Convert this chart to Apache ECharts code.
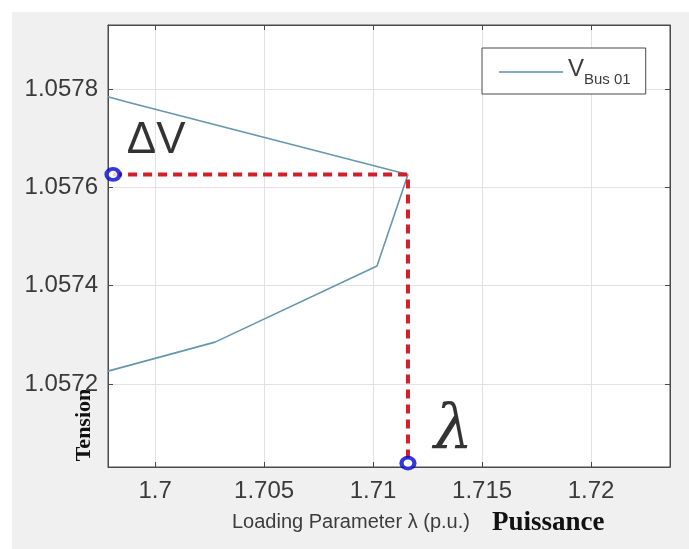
<!DOCTYPE html>
<html>
<head>
<meta charset="utf-8">
<style>
  html, body { margin: 0; padding: 0; background: #ffffff; }
  #chart { width: 689px; height: 549px; }
</style>
<script src="https://cdn.jsdelivr.net/npm/echarts@6/dist/echarts.min.js"></script>
</head>
<body>
<div id="chart"></div>
<script>
// P-V nose curve of bus 01 (voltage vs. loading parameter)
const lambdaValues  = [1.69784, 1.69867, 1.71160, 1.71018, 1.70275, 1.69784];
const voltageValues = [1.057784, 1.057774, 1.057626, 1.057440, 1.057285, 1.057226];

// Critical (maximum loading) point and the projections onto the axes
const criticalLambda = 1.71160;
const criticalVoltage = 1.057626;
const voltageMarkerLambda = 1.698073;
const lambdaMarkerVoltage = 1.057039;

// Axis ranges and tick values
const xRange = [1.69784, 1.72362];
const yRange = [1.057031, 1.057930];
const xTicks = [1.7, 1.705, 1.71, 1.715, 1.72];
const yTicks = [1.0572, 1.0574, 1.0576, 1.0578];

const curve = lambdaValues.map((l, i) => [l, voltageValues[i]]);
const projection = [
  [voltageMarkerLambda, criticalVoltage],
  [criticalLambda, criticalVoltage],
  [criticalLambda, lambdaMarkerVoltage]
];

const sans = "'Liberation Sans', Arial, Helvetica, sans-serif";
const serif = "'Liberation Serif', 'Times New Roman', serif";
const axisColor = '#4a4a4a';
const gridColor = '#e2e2e2';
const curveColor = '#6596ae';

const chart = echarts.init(document.getElementById('chart'));

const tickStyle = (values) => ({
  show: true, inside: true, length: 5, customValues: values,
  lineStyle: { color: axisColor, width: 1 }
});

chart.setOption({
  backgroundColor: '#ffffff',
  animation: false,
  grid: {
    left: 108, top: 25, width: 562, height: 442,
    containLabel: false, outerBoundsMode: 'none',
    show: true, backgroundColor: '#ffffff', borderColor: axisColor, borderWidth: 1
  },
  graphic: [
    { type: 'rect', z: -10, silent: true,
      shape: { x: 12, y: 12, width: 689, height: 549 },
      style: { fill: '#f0f0f0' } },
    { type: 'text', x: 84, y: 425, rotation: Math.PI / 2,
      style: { text: 'Tension', font: 'bold 22px ' + serif, fill: '#111111',
               align: 'center', verticalAlign: 'middle' } },
    { type: 'text', x: 232, y: 522,
      style: { text: 'Loading Parameter \u03bb (p.u.)', font: '20px ' + sans, fill: '#3c3c3c',
               align: 'left', verticalAlign: 'middle' } },
    { type: 'text', x: 492, y: 523,
      style: { text: 'Puissance', font: 'bold 27px ' + serif, fill: '#111111',
               align: 'left', verticalAlign: 'middle' } }
  ],
  legend: {
    left: 482, top: 48,
    padding: [9, 15, 7, 17],
    borderColor: axisColor, borderWidth: 1, borderRadius: 0,
    backgroundColor: '#ffffff',
    icon: 'rect',
    itemWidth: 64, itemHeight: 2,
    itemStyle: { color: '#86abc0' },
    data: ['VBus01'],
    formatter: () => '{v|V}{s|Bus 01}',
    textStyle: {
      rich: {
        v: { fontSize: 24, fontFamily: sans, color: '#3c3c3c', verticalAlign: 'top', lineHeight: 30 },
        s: { fontSize: 15, fontFamily: sans, color: '#3c3c3c', verticalAlign: 'bottom', lineHeight: 30, padding: [12, 0, 0, 0] }
      }
    }
  },
  xAxis: [
    {
      type: 'value', position: 'bottom', min: xRange[0], max: xRange[1],
      axisLine: { show: true, onZero: false, lineStyle: { color: axisColor, width: 1 } },
      axisTick: tickStyle(xTicks),
      axisLabel: {
        customValues: xTicks, margin: 12, color: '#3a3a3a', fontSize: 24, fontFamily: sans,
        formatter: v => String(parseFloat(v.toFixed(4)))
      },
      splitLine: { show: true, lineStyle: { color: gridColor, width: 1 } }
    },
    {
      type: 'value', position: 'top', min: xRange[0], max: xRange[1],
      axisLine: { show: true, onZero: false, lineStyle: { color: axisColor, width: 1 } },
      axisTick: tickStyle(xTicks),
      axisLabel: { show: false },
      splitLine: { show: false }
    }
  ],
  yAxis: [
    {
      type: 'value', position: 'left', min: yRange[0], max: yRange[1],
      axisLine: { show: true, onZero: false, lineStyle: { color: axisColor, width: 1 } },
      axisTick: tickStyle(yTicks),
      axisLabel: {
        customValues: yTicks, margin: 10, color: '#3a3a3a', fontSize: 24, fontFamily: sans,
        formatter: v => v.toFixed(4)
      },
      splitLine: { show: true, lineStyle: { color: gridColor, width: 1 } }
    },
    {
      type: 'value', position: 'right', min: yRange[0], max: yRange[1],
      axisLine: { show: true, onZero: false, lineStyle: { color: axisColor, width: 1 } },
      axisTick: tickStyle(yTicks),
      axisLabel: { show: false },
      splitLine: { show: false }
    }
  ],
  series: [
    {
      name: 'VBus01', type: 'line', data: curve, xAxisIndex: 0, yAxisIndex: 0,
      symbol: 'none', smooth: false, z: 2,
      lineStyle: { color: curveColor, width: 1.6 },
      itemStyle: { color: '#86abc0' }
    },
    {
      name: 'projection', type: 'line', data: projection,
      symbol: 'none', z: 3,
      lineStyle: { color: '#d1202b', width: 4, type: [9, 6] }
    },
    {
      name: 'critical', type: 'scatter', z: 4,
      symbol: 'circle', symbolSize: [13, 11],
      itemStyle: { color: '#ffffff', borderColor: '#0008d4', borderWidth: 4 },
      data: [
        { value: [voltageMarkerLambda, criticalVoltage],
          label: { show: true, position: 'right', offset: [0, -34], formatter: '\u0394V',
                   fontSize: 44, fontFamily: sans, color: '#000000' } },
        { value: [criticalLambda, lambdaMarkerVoltage],
          label: { show: true, position: 'right', offset: [12, -31], formatter: '\u03bb',
                   fontSize: 62, fontStyle: 'italic', fontFamily: "'DejaVu Serif', serif", color: '#000000' } }
      ]
    }
  ]
});
</script>
</body>
</html>
